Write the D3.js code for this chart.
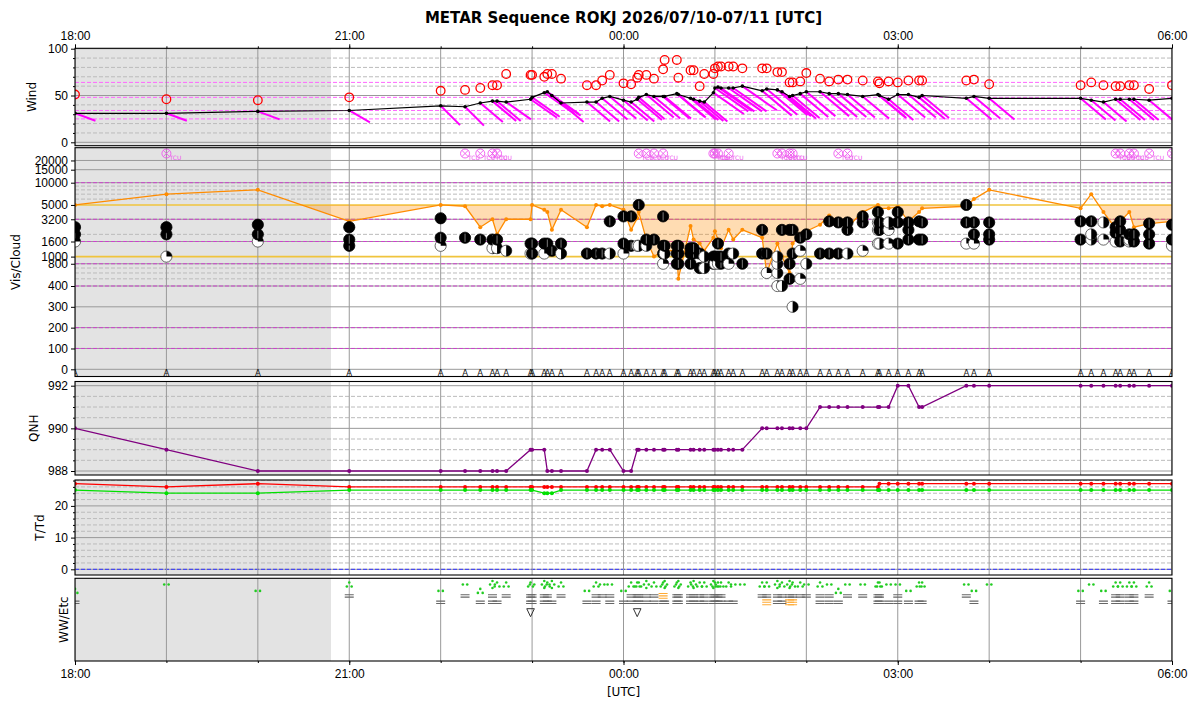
<!DOCTYPE html>
<html><head><meta charset="utf-8">
<script src="https://cdn.jsdelivr.net/npm/d3@7"></script>
<style>
body{margin:0;background:#fff}
svg{display:block;font-family:"DejaVu Sans",sans-serif}
.tick text{font-size:12px;fill:#000}
.tick line{stroke:#000}
</style>
</head><body>
<svg id="chart" width="1200" height="710"></svg>
<script>
// ---------------- DATA ----------------
const titleText = "METAR Sequence ROKJ 2026/07/10-07/11 [UTC]";
const axisRange = ["2026-07-10 18:00", "2026-07-11 06:00"];
const nightRange = ["2026-07-10 18:00", "2026-07-10 20:48"];
const timeTickLabels = ["18:00","21:00","00:00","03:00","06:00"];

const reportTimes = [
"2026-07-10 18:00","2026-07-10 19:00","2026-07-10 20:00","2026-07-10 21:00","2026-07-10 22:00",
"2026-07-10 22:16","2026-07-10 22:26","2026-07-10 22:34","2026-07-10 22:37","2026-07-10 22:43",
"2026-07-10 22:59","2026-07-10 23:00","2026-07-10 23:08","2026-07-10 23:10","2026-07-10 23:13",
"2026-07-10 23:19","2026-07-10 23:36","2026-07-10 23:42","2026-07-10 23:46","2026-07-10 23:51",
"2026-07-11 00:00","2026-07-11 00:05","2026-07-11 00:09","2026-07-11 00:10","2026-07-11 00:15",
"2026-07-11 00:20","2026-07-11 00:26","2026-07-11 00:27","2026-07-11 00:35","2026-07-11 00:36",
"2026-07-11 00:44","2026-07-11 00:46","2026-07-11 00:50","2026-07-11 00:53","2026-07-11 00:59",
"2026-07-11 01:00","2026-07-11 01:02","2026-07-11 01:04","2026-07-11 01:09","2026-07-11 01:12",
"2026-07-11 01:18","2026-07-11 01:31","2026-07-11 01:34","2026-07-11 01:41","2026-07-11 01:44",
"2026-07-11 01:49","2026-07-11 01:51","2026-07-11 01:56","2026-07-11 02:00","2026-07-11 02:09",
"2026-07-11 02:15","2026-07-11 02:21","2026-07-11 02:27","2026-07-11 02:37","2026-07-11 02:47",
"2026-07-11 02:48","2026-07-11 02:54","2026-07-11 03:00","2026-07-11 03:07","2026-07-11 03:14",
"2026-07-11 03:16","2026-07-11 03:45","2026-07-11 03:50","2026-07-11 04:00","2026-07-11 05:00",
"2026-07-11 05:07","2026-07-11 05:15","2026-07-11 05:23","2026-07-11 05:26","2026-07-11 05:32",
"2026-07-11 05:35","2026-07-11 05:45","2026-07-11 06:00"];

const windSpeed = [31,31,33,34,39, 38,42,44,44,43, 46,48,53,54,50, 42,43,43,47,49,
 45,43,46,48,51, 49,49,49,52,51, 47,46,44,43,53, 58,59,58,58,58, 60,55,57,56,54,
 49,50,52,54,54, 52,52,51,49,51, 50,46,51,51,48, 50,47,49,47,47, 45,43,46,46,46, 46,45,47];
const windGust = [51,46,45,48,55, 56,58,61,61,73, 72,72,70,73,73, 68,61,61,66,72,
 63,62,69,72,72, 68,78,88,88,69, 77,77,60,73,73, 79,81,81,81,81, 79,79,79,75,75,
 64,64,65,74,68, 65,67,67,66,65, 63,65,64,66,66, 66,66,67,62,61, 64,61,60,60,61, 61,57,61];
const windDir = [110,110,110,120,135, 135,130,130,130,125, 125,125,125,125,125, 130,130,130,130,130,
 130,130,130,130,130, 130,130,130,130,130, 130,130,130,130,125, 125,125,125,125,125, 125,130,130,130,130,
 130,130,130,130,130, 130,130,130,130,130, 130,130,130,130,130, 130,130,130,130,130, 130,130,130,130,130, 130,130,130];
const visibility = [5000,7000,8000,3000,5000, 4800,2500,3200,2000,3200, 3200,5000,4300,4000,2300,
 4300,2500,5000,4800,5000, 4300,2300,3300,4000,1700, 1000,1200,1200,1200,500, 2600,1700,1500,1200,1800,
 2200,1700,1300,2300,1700, 2300,1800,600,1500,1000, 600,1500,2000,2200,2700, 3600,2800,2500,4000,5000,
 4500,4500,4700,3000,4000, 4500,4800,6000,8000,4500, 7000,4000,2400,3000,4000, 2500,2800,3000];
const qnh = [990,989,988,988,988, 988,988,988,988,988, 989,989,989,988,988, 988,988,989,989,989,
 988,988,989,989,989, 989,989,989,989,989, 989,989,989,989,989, 989,989,989,989,989,
 989,990,990,990,990, 990,990,990,990,991, 991,991,991,991,991, 991,991,992,992,991,
 991,992,992,992,992, 992,992,992,992,992, 992,992,992];
const temperature = [27,26,27,26,26, 26,26,26,26,26, 26,26,26,26,26, 26,26,26,26,26,
 26,26,26,26,26, 26,26,26,26,26, 26,26,26,26,26, 26,26,26,26,26, 26,26,26,26,26,
 26,26,26,26,26, 26,26,26,26,26, 27,27,27,27,27, 27,27,27,27,27, 27,27,27,27,27, 27,27,27];
const dewpoint = [25,24,24,25,25, 25,25,25,25,25, 25,25,24,24,24, 25,25,25,25,25,
 25,25,25,25,25, 25,25,25,25,25, 25,25,25,25,25, 25,25,25,25,25, 25,25,25,25,25,
 25,25,25,25,25, 25,25,25,25,25, 25,25,25,25,25, 25,25,25,25,25, 25,25,25,25,25, 25,25,25];
const cloudLayers = [
"FEW016 BKN020 OVC025","FEW010 BKN020 OVC025","FEW016 BKN020 OVC027","BKN014 BKN017 OVC025","FEW014 BKN018 OVC033",
"BKN018","BKN017","SCT013 BKN017","SCT013 BKN017","SCT012",
"FEW011 BKN015","BKN011 BKN015","FEW011 BKN015","BKN015","BKN012",
"SCT011 BKN015","BKN011","BKN011","BKN011","SCT011 BKN030",
"FEW011 BKN015 BKN035","BKN014 BKN035","SCT014","SCT014 BKN050","SCT014 BKN017",
"BKN017","FEW008 BKN011 BKN014 BKN035","SCT011 BKN014","BKN008 BKN011 BKN014","BKN008 BKN011 BKN014",
"BKN008 BKN011 BKN013","BKN011 BKN013","BKN007 BKN011","SCT007 SCT010","BKN008 BKN010",
"FEW008 BKN010","FEW008 BKN010 BKN015","BKN008 BKN010","FEW008 BKN011","SCT011",
"BKN008","BKN011 BKN023","FEW006 BKN011","FEW004 SCT006 SCT008 SCT010","SCT004 BKN023",
"BKN005 BKN008 BKN023","SCT003 BKN011 BKN023","FEW005 FEW012 BKN018","SCT008 BKN020","BKN011",
"BKN011 BKN030","BKN011 BKN029","SCT011 BKN023 BKN029","FEW012 BKN029 BKN035","FEW015 SCT023 SCT029 BKN040",
"SCT015 BKN023 BKN029","FEW015 FEW023 SCT029","BKN015 BKN029 BKN040","BKN017 BKN023 BKN029","BKN017 BKN030",
"BKN017 BKN029","FEW015 BKN029 BKN050","FEW015 BKN020 BKN029","BKN017 BKN020 BKN029","BKN017 BKN030",
"SCT017 SCT020 BKN030","FEW017 SCT029","FEW016 BKN021 BKN025","BKN016 BKN023 BKN030","SCT016 SCT017 BKN020",
"BKN016 BKN020","BKN015 BKN020 BKN028","FEW014 BKN017 BKN027"];
const presentWeather = [
"/RA/BR","-RA","/-RA","RA/BR","/-RA/BR",
"-RA/BR","/RA/BR","+RA/BR/BR","RA//BR","RA/BR",
"RA/BR/BR/SH","-RA/BR/BR","+RA/BR/BR","RA/BR/BR","+RA//BR",
"RA/BR","/-RA/BR","RA/BR/BR","-RA/BR","-RA/BR/BR",
"/-RA/BR","RA/BR/BR","RA/BR/BR/SH","RA/BR/BR","+RA/BR/BR",
"RA/BR/BR","RA/FG/BR","+RA//BR","RA/BR/BR","+RA/BR/BR",
"RA/BR/BR","+RA/BR/BR","RA/BR/BR","RA/BR/BR","+RA/BR/BR",
"RA/BR/BR","RA/BR/BR","RA/BR/BR","RA//BR","-RA//BR",
"-RA","RA/BR","RA/BR/FG","+RA/BR/BR","RA/BR/BR",
"+RA/BR/FG","RA/BR/FG","RA/BR","-RA/BR","RA/BR/BR",
"-RA/BR/BR","/RA/BR","-RA/BR","-RA/BR","RA/BR/BR",
"RA/BR/BR","-RA//BR","-RA/BR/BR","/-RA/BR","RA//BR",
"RA//BR","-RA/BR","/-RA/BR","-RA","/-RA/BR",
"-RA","/-RA/BR","RA/BR/BR","RA/BR/BR","RA/BR/BR",
"RA/BR/BR","RA/BR","/-RA/BR"];
const tcuTimes = ["2026-07-10 19:00","2026-07-10 22:16","2026-07-10 22:26","2026-07-10 22:34","2026-07-10 22:37",
"2026-07-11 00:10","2026-07-11 00:15","2026-07-11 00:20","2026-07-11 00:26","2026-07-11 00:59","2026-07-11 01:00",
"2026-07-11 01:02","2026-07-11 01:09","2026-07-11 01:41","2026-07-11 01:44","2026-07-11 01:49","2026-07-11 01:51",
"2026-07-11 02:21","2026-07-11 02:27","2026-07-11 05:23","2026-07-11 05:26","2026-07-11 05:32","2026-07-11 05:35",
"2026-07-11 05:45","2026-07-11 06:00"];

const windTicks = [0,50,100];
const windRefLines = [25,34,48,64];
const visTicksLow = [0,100,200,300,400];
const visTicksHigh = [800,1000,1600,3200,5000,10000,15000,20000];
const visMagenta = [100,200,400,800,1600,3200,10000];
const visGold = [1000,5000];
const visDashed = [500,600,700,2000,6000,7000,8000,9000];
const visGray = [0,300,15000,20000];
const qnhTicks = [988,990,992];
const tempTicks = [0,10,20];

// ---------------- LAYOUT ----------------
const svg = d3.select("#chart");
const parse = d3.utcParse("%Y-%m-%d %H:%M");
const T = reportTimes.map(parse);
const X0 = 75, X1 = 1172;
const x = d3.scaleUtc().domain(axisRange.map(parse)).range([X0, X1]);
const P = {wind:[48.3,145.7], vis:[147.7,376.5], qnh:[381.5,475], tt:[480,575], ww:[578.3,661]};

const yW = d3.scaleLinear().domain([0,100]).range([142.3,48.7]);
const yVLin = d3.scaleLinear().domain([0,400]).range([369.3,286]);
const yVLog = d3.scaleLog().domain([400,10000]).range([286,182.7]);
const yV = v => v <= 400 ? yVLin(v) : yVLog(v);
const yQ = d3.scaleLinear().domain([988,992]).range([471,385.7]);
const yT = d3.scaleLinear().domain([0,20]).range([569.3,505.9]);

const defs = svg.append("defs");
Object.entries(P).forEach(([k,[t,b]]) => {
  defs.append("clipPath").attr("id","clip-"+k).append("rect")
    .attr("x",X0).attr("y",t).attr("width",X1-X0).attr("height",b-t);
});
defs.append("clipPath").attr("id","clip-visfill").append("rect")
  .attr("x",X0).attr("y",yV(5000)).attr("width",X1-X0).attr("height",P.vis[1]-yV(5000));

const layers = {};
const hours = d3.utcHour.range(x.domain()[0], d3.utcHour.offset(x.domain()[1],1));
Object.entries(P).forEach(([k,[t,b]]) => {
  const g = svg.append("g").attr("clip-path",`url(#clip-${k})`);
  g.append("rect").attr("x",x(parse(nightRange[0]))).attr("y",t)
    .attr("width",x(parse(nightRange[1]))-x(parse(nightRange[0]))).attr("height",b-t).attr("fill","#e3e3e3");
  layers[k] = g;
});
function hline(g, y, color, width, dash){
  g.append("line").attr("x1",X0).attr("x2",X1).attr("y1",y).attr("y2",y)
   .attr("stroke",color).attr("stroke-width",width).attr("stroke-dasharray",dash||null);
}
// grids
for(let v=10; v<100; v+=10) if(v!==50) hline(layers.wind, yW(v), "#bbb", 1, "4,2");
windTicks.forEach(v=>hline(layers.wind, yW(v), "#999", 1));
windRefLines.forEach(v=>hline(layers.wind, yW(v), "#ff66ff", 1, "4,2"));

visDashed.forEach(v=>hline(layers.vis, yV(v), "#bbb", 1, "4,2"));
visGray.forEach(v=>hline(layers.vis, yV(v), "#999", 1));
visMagenta.forEach(v=>{hline(layers.vis, yV(v), "#999", 1); hline(layers.vis, yV(v), "#cc44cc", 1, "4,2");});
visGold.forEach(v=>hline(layers.vis, yV(v), "#f0c43c", 1.6));

for(let v=988.5; v<992.4; v+=0.5) if(v%2!==0) hline(layers.qnh, yQ(v), "#bbb", 1, "4,2");
qnhTicks.forEach(v=>hline(layers.qnh, yQ(v), "#999", 1));

for(let v=2; v<30; v+=2) if(v%10!==0) hline(layers.tt, yT(v), "#bbb", 1, "4,2");
[10,20].forEach(v=>hline(layers.tt, yT(v), "#999", 1));
hline(layers.tt, yT(0), "#999", 1);
hline(layers.tt, yT(0), "#3333ff", 1, "4,2");

Object.values(layers).forEach(g=>{
  g.selectAll(".vg").data(hours).enter().append("line")
   .attr("x1",d=>x(d)).attr("x2",d=>x(d)).attr("y1",0).attr("y2",710)
   .attr("stroke","#999").attr("stroke-width",1);
});

// ---------------- WIND ----------------
const wg = layers.wind;
wg.selectAll(".barb").data(T).enter().append("line")
  .attr("x1",(d,i)=>x(d)).attr("y1",(d,i)=>yW(windSpeed[i]))
  .attr("x2",(d,i)=>x(d)+0.75*(yW(0)-yW(windSpeed[i]))*Math.sin(windDir[i]*Math.PI/180))
  .attr("y2",(d,i)=>yW(windSpeed[i])-0.75*(yW(0)-yW(windSpeed[i]))*Math.cos(windDir[i]*Math.PI/180))
  .attr("stroke","#ff00ff").attr("stroke-width",2);
wg.append("path").datum(T).attr("fill","none").attr("stroke","#000").attr("stroke-width",1.2)
  .attr("d", d3.line().x(d=>x(d)).y((d,i)=>yW(windSpeed[i])));
wg.selectAll(".wd").data(T).enter().append("circle").attr("cx",d=>x(d)).attr("cy",(d,i)=>yW(windSpeed[i])).attr("r",1.8).attr("fill","#000");
wg.selectAll(".gust").data(T).enter().append("circle").attr("cx",d=>x(d)).attr("cy",(d,i)=>yW(windGust[i]))
  .attr("r",4.3).attr("fill","none").attr("stroke","#ff0000").attr("stroke-width",1.3);

// ---------------- VIS / CLOUD ----------------
const vg = layers.vis;
vg.append("path").datum(T).attr("clip-path","url(#clip-visfill)")
  .attr("fill","#ff8c00").attr("fill-opacity",0.3)
  .attr("d", d3.area().x(d=>x(d)).y0(yV(5000)).y1((d,i)=>yV(visibility[i])));
vg.append("path").datum(T).attr("fill","none").attr("stroke","#ff8c00").attr("stroke-width",1.3)
  .attr("d", d3.line().x(d=>x(d)).y((d,i)=>yV(visibility[i])));
vg.selectAll(".vd").data(T).enter().append("circle").attr("cx",d=>x(d)).attr("cy",(d,i)=>yV(visibility[i])).attr("r",2).attr("fill","#ff8c00");

const cloudPts = [];
T.forEach((t,i)=>cloudLayers[i].split(" ").forEach(c=>cloudPts.push({t, cover:c.slice(0,3), h:+c.slice(3)*100})));
const cr = 5.6;
cloudPts.forEach(c=>{
  const s = vg.append("g").attr("transform",`translate(${x(c.t)},${yV(c.h)})`);
  if(c.cover==="OVC"||c.cover==="BKN"){
    s.append("circle").attr("r",cr).attr("fill","#000").attr("stroke","#000").attr("stroke-width",0.8);
    if(c.cover==="BKN") s.append("line").attr("x1",0).attr("x2",0).attr("y1",-cr+1.5).attr("y2",cr-1.5).attr("stroke","#fff").attr("stroke-width",0.6).attr("stroke-opacity",0.8);
  } else {
    s.append("circle").attr("r",cr).attr("fill","#fff").attr("stroke","#444").attr("stroke-width",0.8);
    const frac = c.cover==="SCT" ? 0.5 : 0.25;
    s.append("path").attr("d", d3.arc()({innerRadius:0, outerRadius:cr, startAngle:0, endAngle:frac*2*Math.PI})).attr("fill","#000");
  }
});
tcuTimes.map(parse).forEach(t=>{
  const s = vg.append("g").attr("transform",`translate(${x(t)},${153.5})`);
  s.append("circle").attr("r",4.5).attr("fill","none").attr("stroke","#ee55ee").attr("stroke-width",0.9);
  s.append("path").attr("d","M-3.2,-3.2L3.2,3.2M-3.2,3.2L3.2,-3.2").attr("stroke","#ee55ee").attr("stroke-width",0.9);
  s.append("text").attr("x",3).attr("y",6.5).attr("font-size",6).attr("fill","#ee55ee").text("TCU");
});
vg.selectAll(".am").data(T).enter().append("text").attr("x",d=>x(d)).attr("y",375.5)
  .attr("text-anchor","middle").attr("font-size",8.5).attr("fill","#111").text("A");

// ---------------- QNH ----------------
const qg = layers.qnh;
qg.append("path").datum(T).attr("fill","none").attr("stroke","#800080").attr("stroke-width",1.3)
  .attr("d", d3.line().x(d=>x(d)).y((d,i)=>yQ(qnh[i])));
qg.selectAll(".qd").data(T).enter().append("circle").attr("cx",d=>x(d)).attr("cy",(d,i)=>yQ(qnh[i])).attr("r",2).attr("fill","#800080");

// ---------------- T / Td ----------------
const tg = layers.tt;
[[temperature,"#ff0000"],[dewpoint,"#00e000"]].forEach(([arr,col])=>{
  tg.append("path").datum(T).attr("fill","none").attr("stroke",col).attr("stroke-width",1.3)
    .attr("d", d3.line().x(d=>x(d)).y((d,i)=>yT(arr[i])));
  tg.selectAll(null).data(T).enter().append("circle").attr("cx",d=>x(d)).attr("cy",(d,i)=>yT(arr[i])).attr("r",2).attr("fill",col);
});

// ---------------- WW ----------------
const ww = layers.ww;
const green = "#22cc22";
function dots(g, pts){ pts.forEach(([dx,dy])=>g.append("circle").attr("cx",dx).attr("cy",dy).attr("r",1.3).attr("fill",green)); }
T.forEach((t,i)=>{
  presentWeather[i].split("/").forEach((code,row)=>{
    if(!code) return;
    const cx = x(t);
    const g = ww.append("g").attr("transform",`translate(${cx},0)`);
    const ry = 584.5 + 6.4*row;
    if(code==="-RA") dots(g, [[-2.2,ry],[2.2,ry]]);
    else if(code==="RA") dots(g, [[0,ry-2],[-2.4,ry+2],[2.4,ry+2]]);
    else if(code==="+RA") dots(g, [[0,ry-3.5],[-2.4,ry],[2.4,ry],[0,ry+3.5]]);
    else if(code==="BR"||code==="FG"){
      const yy = ry + 5; const col = code==="BR" ? "#666" : "#ffaa33";
      const n = code==="BR" ? 2 : 3;
      for(let k=0;k<n;k++) g.append("line").attr("x1",-4.5).attr("x2",4.5).attr("y1",yy-1.2*(n-1)+2.4*k).attr("y2",yy-1.2*(n-1)+2.4*k)
        .attr("stroke",col).attr("stroke-width",1.1);
    } else if(code==="SH"){
      const yy = ry + 9;
      g.append("path").attr("d",`M-3.8,${yy-4}L3.8,${yy-4}L0,${yy+4}Z`).attr("fill","none").attr("stroke","#333").attr("stroke-width",1);
    }
  });
});

// ---------------- FRAMES & AXES ----------------
Object.values(P).forEach(([t,b])=>{
  svg.append("rect").attr("x",X0).attr("y",t).attr("width",X1-X0).attr("height",b-t)
    .attr("fill","none").attr("stroke","#000").attr("stroke-width",1.1);
});
function clean(g){ g.select(".domain").remove(); return g; }
const tickTimes = timeTickLabels.map((s,i)=>x.domain()[0].getTime()+i*3*3600e3).map(v=>new Date(v));
clean(svg.append("g").attr("transform",`translate(0,${P.wind[0]})`)
  .call(d3.axisTop(x).tickValues(tickTimes).tickFormat((d,i)=>timeTickLabels[i]).tickSize(4).tickPadding(4)));
clean(svg.append("g").attr("transform",`translate(0,${P.ww[1]})`)
  .call(d3.axisBottom(x).tickValues(tickTimes).tickFormat((d,i)=>timeTickLabels[i]).tickSize(4).tickPadding(4)));
clean(svg.append("g").attr("transform",`translate(0,${P.wind[0]})`).call(d3.axisTop(x).tickValues(hours).tickFormat("").tickSize(2)));
clean(svg.append("g").attr("transform",`translate(0,${P.ww[1]})`).call(d3.axisBottom(x).tickValues(hours).tickFormat("").tickSize(2)));

function leftAxis(scale, vals, minor){
  clean(svg.append("g").attr("transform",`translate(${X0},0)`).call(d3.axisLeft(scale).tickValues(vals).tickFormat(d3.format("d")).tickSize(4).tickPadding(3)));
  if(minor) clean(svg.append("g").attr("transform",`translate(${X0},0)`).call(d3.axisLeft(scale).tickValues(minor).tickFormat("").tickSize(2)));
}
leftAxis(yW, windTicks, [10,20,30,40,60,70,80,90]);
leftAxis(yVLin, visTicksLow);
leftAxis(yVLog, visTicksHigh);
leftAxis(yQ, qnhTicks, [988.5,989,989.5,990.5,991,991.5]);
leftAxis(yT, tempTicks, [2,4,6,8,12,14,16,18,22,24,26,28]);

svg.append("text").attr("x",623.5).attr("y",23).attr("text-anchor","middle")
  .attr("font-size",15).attr("font-weight","bold").text(titleText);
svg.append("text").attr("x",623.5).attr("y",696).attr("text-anchor","middle").attr("font-size",12).text("[UTC]");
const ylabels = [["Wind",36,(P.wind[0]+P.wind[1])/2],["Vis/Cloud",20,(P.vis[0]+P.vis[1])/2],
  ["QNH",38,(P.qnh[0]+P.qnh[1])/2],["T/Td",44,(P.tt[0]+P.tt[1])/2],["WW/Etc",68,(P.ww[0]+P.ww[1])/2]];
ylabels.forEach(([s,xx,yy])=>svg.append("text").attr("transform",`translate(${xx},${yy}) rotate(-90)`)
  .attr("text-anchor","middle").attr("font-size",12).text(s));
</script>
</body></html>
